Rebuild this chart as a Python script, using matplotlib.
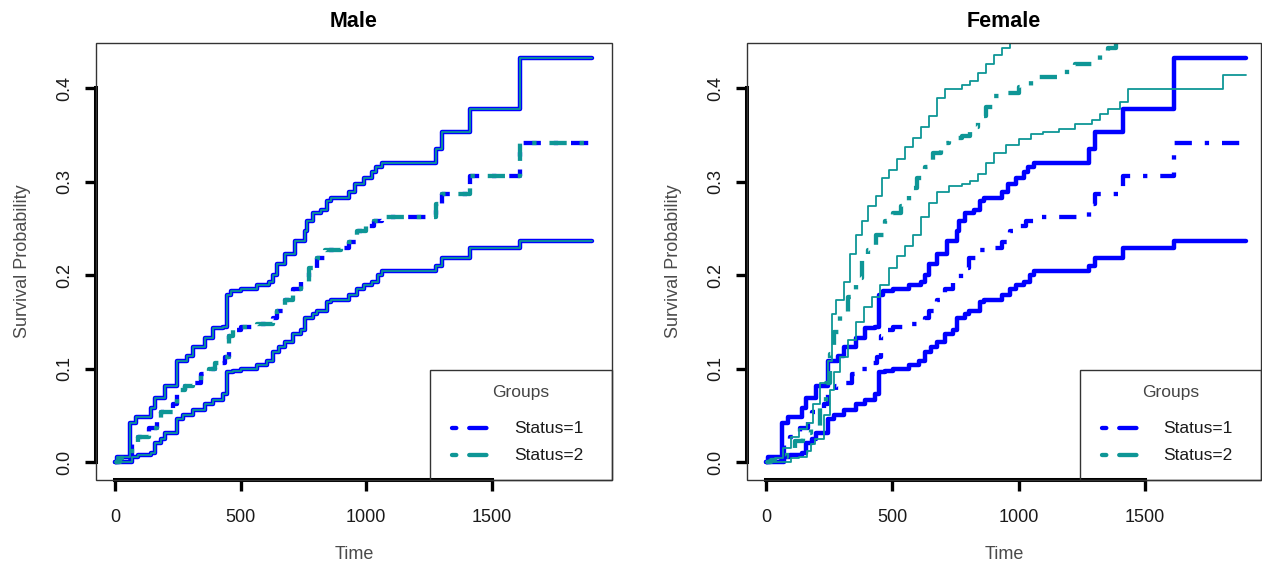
import matplotlib
matplotlib.use('Agg')
import matplotlib.pyplot as plt
from matplotlib.patches import Rectangle
from matplotlib.lines import Line2D

plt.rcParams['font.family'] = ['Liberation Sans', 'DejaVu Sans']

# ---------------- data ----------------
panel_titles = ['Male', 'Female']
group_labels = ['Status=1', 'Status=2']
legend_title = 'Groups'
x_ticks = [0, 500, 1000, 1500]
x_tick_labels = ['0', '500', '1000', '1500']
y_ticks = [0.0, 0.1, 0.2, 0.3, 0.4]
y_tick_labels = ['0.0', '0.1', '0.2', '0.3', '0.4']

# Status=1 (identical in both panels; Male Status=2 coincides with it)
s1_est_t = [0, 22, 70, 94, 134, 166, 182, 230, 246, 278, 310, 342, 374, 398, 438, 454,
            470, 502, 565, 629, 645, 677, 709, 741, 773, 805, 837, 901, 933, 965, 997,
            1029, 1061, 1276, 1300, 1412, 1612, 1898]
s1_est_v = [0, 0.005, 0.019, 0.027, 0.037, 0.046, 0.054, 0.062, 0.077, 0.081, 0.085,
            0.094, 0.100, 0.106, 0.112, 0.135, 0.141, 0.145, 0.148, 0.154, 0.162, 0.173,
            0.185, 0.193, 0.208, 0.218, 0.227, 0.229, 0.235, 0.247, 0.252, 0.258, 0.262,
            0.276, 0.287, 0.306, 0.341, 0.341]
s1_up_t = [0, 8, 62, 86, 142, 158, 198, 246, 286, 310, 358, 390, 430, 446, 462, 502, 565,
           613, 629, 645, 677, 717, 757, 765, 789, 821, 845, 861, 933, 957, 989, 1021,
           1037, 1061, 1276, 1300, 1412, 1612, 1898]
s1_up_v = [0, 0.006, 0.042, 0.048, 0.058, 0.069, 0.081, 0.108, 0.114, 0.123, 0.133, 0.143,
           0.145, 0.179, 0.183, 0.185, 0.189, 0.193, 0.200, 0.212, 0.223, 0.237, 0.247,
           0.258, 0.266, 0.270, 0.279, 0.282, 0.289, 0.297, 0.304, 0.310, 0.316, 0.320,
           0.335, 0.353, 0.378, 0.432, 0.432]
s1_lo_t = [0, 70, 94, 142, 158, 182, 198, 246, 270, 310, 358, 390, 430, 446, 470, 502, 565,
           605, 629, 653, 677, 709, 741, 757, 789, 805, 845, 861, 933, 965, 989, 1021, 1045,
           1061, 1276, 1300, 1412, 1612, 1898]
s1_lo_v = [0, 0.006, 0.008, 0.010, 0.021, 0.025, 0.031, 0.046, 0.050, 0.056, 0.062, 0.067,
           0.073, 0.096, 0.098, 0.100, 0.104, 0.108, 0.118, 0.123, 0.129, 0.137, 0.141,
           0.154, 0.158, 0.162, 0.171, 0.173, 0.179, 0.185, 0.189, 0.193, 0.200, 0.204,
           0.210, 0.218, 0.229, 0.237, 0.237]

# Female Status=2
f2_est_t = [0, 19, 51, 84, 116, 148, 180, 212, 236, 252, 268, 292, 324, 357, 381, 405, 437,
            469, 501, 533, 565, 597, 629, 662, 694, 726, 774, 806, 838, 870, 903, 951, 999,
            1047, 1079, 1159, 1192, 1224, 1288, 1320, 1352, 1384, 1898]
f2_est_v = [0, 0.002, 0.006, 0.015, 0.023, 0.031, 0.039, 0.058, 0.085, 0.116, 0.139, 0.158,
            0.177, 0.197, 0.216, 0.227, 0.243, 0.258, 0.266, 0.274, 0.293, 0.304, 0.316,
            0.331, 0.341, 0.347, 0.349, 0.358, 0.370, 0.380, 0.391, 0.395, 0.401, 0.407,
            0.412, 0.414, 0.420, 0.426, 0.428, 0.437, 0.443, 0.452, 0.470]
f2_up_t = [0, 11, 35, 67, 100, 132, 164, 188, 212, 244, 260, 276, 308, 332, 357, 381, 405,
           437, 461, 485, 517, 549, 581, 613, 646, 678, 710, 774, 806, 838, 870, 903, 935,
           967, 1000, 1898]
f2_up_v = [0, 0.002, 0.004, 0.015, 0.027, 0.035, 0.042, 0.062, 0.085, 0.108, 0.158, 0.173,
           0.193, 0.223, 0.243, 0.258, 0.274, 0.285, 0.304, 0.312, 0.324, 0.337, 0.347,
           0.358, 0.370, 0.389, 0.399, 0.403, 0.408, 0.416, 0.426, 0.435, 0.443, 0.452,
           0.470, 0.560]
f2_lo_t = [0, 100, 132, 164, 180, 196, 228, 252, 268, 292, 324, 357, 389, 421, 453, 485, 517,
           549, 581, 613, 646, 678, 726, 774, 806, 838, 870, 903, 951, 999, 1047, 1095, 1159,
           1224, 1288, 1320, 1352, 1400, 1433, 1807, 1898]
f2_lo_v = [0, 0.004, 0.006, 0.012, 0.019, 0.025, 0.050, 0.077, 0.096, 0.112, 0.131, 0.150,
           0.166, 0.177, 0.189, 0.208, 0.220, 0.231, 0.243, 0.262, 0.277, 0.289, 0.295,
           0.297, 0.301, 0.308, 0.320, 0.331, 0.339, 0.345, 0.351, 0.353, 0.356, 0.362,
           0.366, 0.372, 0.378, 0.385, 0.399, 0.414, 0.414]

status1 = dict(est=(s1_est_t, s1_est_v), lo=(s1_lo_t, s1_lo_v), up=(s1_up_t, s1_up_v))
male_status2 = status1
female_status2 = dict(est=(f2_est_t, f2_est_v), lo=(f2_lo_t, f2_lo_v), up=(f2_up_t, f2_up_v))

# ---------------- style ----------------
BLUE = '#0000FF'
TEAL = '#0E9696'
DOTDASH = (1, 3, 4, 3)
W, H = 1262, 566
AX_BOTTOM, AX_TOP = 480, 43.3

fig = plt.figure(figsize=(W / 100, H / 100), dpi=100)

panels = [
    (panel_titles[0], 95.7, 516.3, (-76, 1977), male_status2),
    (panel_titles[1], 746.7, 514.3, (-76, 1958), female_status2),
]


def draw_group(ax, g, color, ci_lw, est_offset):
    for key in ('lo', 'up'):
        t, v = g[key]
        ax.step(t, v, where='post', color=color, lw=ci_lw,
                solid_joinstyle='round', solid_capstyle='round')
    t, v = g['est']
    ax.step(t, v, where='post', color=color, lw=3.1,
            linestyle=(est_offset, DOTDASH), dash_capstyle='butt',
            dash_joinstyle='round')


for title, left_px, width_px, xlim, grp2 in panels:
    ax = fig.add_axes([left_px / W, (H - AX_BOTTOM) / H, width_px / W,
                       (AX_BOTTOM - AX_TOP) / H])
    draw_group(ax, status1, BLUE, 3.2, 0)
    draw_group(ax, grp2, TEAL, 1.3, 5)

    ax.set_xlim(*xlim)
    ax.set_ylim(-0.019, 0.4478)
    ax.set_xticks(x_ticks)
    ax.set_xticklabels(x_tick_labels)
    ax.set_yticks(y_ticks)
    ax.set_yticklabels(y_tick_labels)
    ax.tick_params(axis='both', length=8, width=2.4, color='black',
                   labelsize=13, labelcolor='#1a1a1a')
    ax.tick_params(axis='x', pad=13)
    ax.tick_params(axis='y', labelrotation=90, pad=8)
    for lbl in ax.get_yticklabels():
        lbl.set_verticalalignment('center')

    for side in ('top', 'right'):
        ax.spines[side].set_visible(False)
    ax.spines['left'].set_linewidth(2.9)
    ax.spines['left'].set_bounds(y_ticks[0], y_ticks[-1])
    ax.spines['bottom'].set_linewidth(2.9)
    ax.spines['bottom'].set_bounds(x_ticks[0], x_ticks[-1])
    ax.add_patch(Rectangle((0, 0), 1, 1, transform=ax.transAxes, fill=False,
                           lw=1.0, ec='#333333', clip_on=False, zorder=5))

    ax.set_title(title, fontsize=15.5, fontweight='bold', pad=12)
    ax.set_xlabel('Time', fontsize=13, color='#4a4a4a')
    ax.set_ylabel('Survival Probability', fontsize=13, color='#4a4a4a')
    ax.xaxis.set_label_coords(0.5, -0.150)
    ax.yaxis.set_label_coords(-0.125, 0.5)

    # legend (bottom right, R style, transparent background)
    ax.add_patch(Rectangle((0.6475, 0), 0.3525, 0.252, transform=ax.transAxes,
                           fill=False, lw=1.0, ec='#333333',
                           clip_on=False, zorder=6))
    ax.text(0.8237, 0.2015, legend_title, transform=ax.transAxes, fontsize=12.5,
            color='#444444', ha='center', va='center', zorder=7)
    for yy, lab, col in ((0.119, group_labels[0], BLUE), (0.0572, group_labels[1], TEAL)):
        ax.add_line(Line2D([0.690, 0.762], [yy, yy], transform=ax.transAxes,
                           color=col, lw=3.1, linestyle=(0, DOTDASH),
                           dash_capstyle='round', clip_on=False, zorder=7))
        ax.text(0.8101, yy, lab, transform=ax.transAxes, fontsize=12.5,
                color='#1a1a1a', ha='left', va='center', zorder=7)

fig.savefig('out.png', dpi=100)
